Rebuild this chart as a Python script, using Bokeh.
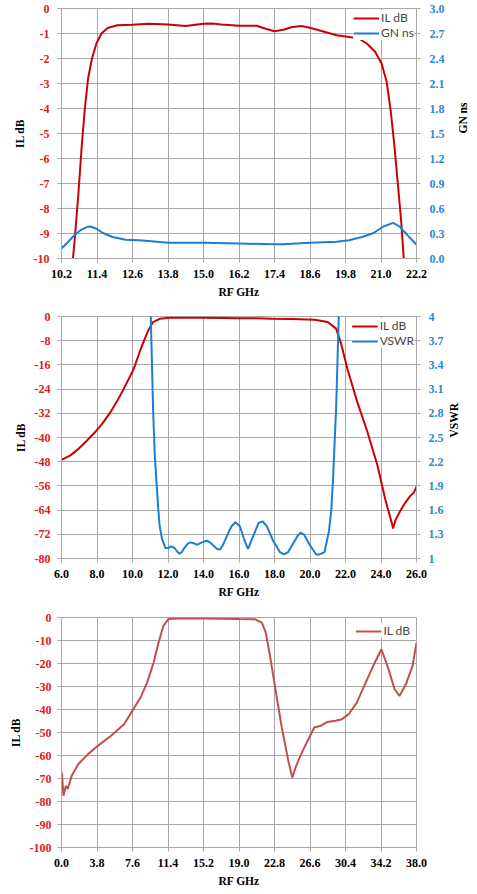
import math
from bokeh.plotting import figure
from bokeh.models import Range1d, LinearAxis, FixedTicker, Legend, LegendItem, NumeralTickFormatter
from bokeh.layouts import column
from bokeh.embed import file_html
from bokeh.resources import INLINE

# ---------------- Chart 1 data ----------------
c1_il_x = [10.587, 10.663, 10.77, 10.88, 10.99, 11.10, 11.23, 11.38, 11.55, 11.76, 12.09, 12.59, 13.14, 13.8,
           14.4, 15.0, 15.3, 15.6, 16.2, 16.8, 17.1, 17.4, 17.7, 18.0, 18.3, 18.6, 19.2, 19.5, 19.92, 20.25,
           20.52, 20.80, 21.02, 21.19, 21.33, 21.46, 21.57, 21.68, 21.77]
c1_il_y = [-10.0, -9.0, -7.42, -5.57, -3.98, -2.79, -2.0, -1.40, -1.0, -0.78, -0.67, -0.65, -0.61, -0.64,
           -0.70, -0.61, -0.60, -0.64, -0.69, -0.69, -0.81, -0.91, -0.85, -0.74, -0.70, -0.77, -0.97, -1.07, -1.14, -1.20,
           -1.40, -1.73, -2.20, -2.92, -4.11, -5.57, -7.02, -8.48, -10.0]
c1_gn_x = [10.2, 10.39, 10.61, 10.83, 11.05, 11.18, 11.38, 11.60, 11.93, 12.37, 12.81, 13.14, 13.8, 15.0, 16.2,
           17.4, 17.7, 18.6, 19.5, 19.92, 20.36, 20.75, 21.08, 21.41, 21.63, 21.90, 22.2]
c1_gn_y = [0.12, 0.187, 0.27, 0.337, 0.377, 0.384, 0.357, 0.306, 0.258, 0.226, 0.218, 0.21, 0.19, 0.19, 0.18,
           0.17, 0.17, 0.19, 0.20, 0.218, 0.258, 0.306, 0.384, 0.428, 0.384, 0.277, 0.165]
c1_x_ticks = [10.2, 11.4, 12.6, 13.8, 15.0, 16.2, 17.4, 18.6, 19.8, 21.0, 22.2]
c1_left_ticks = [0, -1, -2, -3, -4, -5, -6, -7, -8, -9, -10]
c1_right_ticks = [0.0, 0.3, 0.6, 0.9, 1.2, 1.5, 1.8, 2.1, 2.4, 2.7, 3.0]

# ---------------- Chart 2 data ----------------
c2_il_x = [6.0, 6.5, 6.89, 7.3, 7.82, 8.3, 8.75, 9.1, 9.49, 10.05, 10.51, 10.89, 11.16, 11.53, 12.09, 14.0, 16.0,
           17.0, 17.85, 19.0, 20.26, 21.0, 21.47, 21.75, 22.12, 22.67, 23.23, 23.79, 24.26, 24.62, 24.68, 24.81,
           25.09, 25.37, 25.65, 25.85, 26.02]
c2_il_y = [-47.4, -45.9, -44.1, -41.8, -38.7, -35.4, -31.7, -28.3, -24.1, -17.6, -10.0, -4.55, -1.84, -0.76, -0.43,
           -0.43, -0.54, -0.6, -0.76, -0.8, -1.08, -1.84, -4.0, -8.9, -17.6, -28.4, -38.1, -49.0, -60.9, -68.5,
           -70.1, -67.4, -64.2, -61.5, -59.3, -58.2, -56.0]
c2_vswr_x = [10.95, 11.03, 11.16, 11.25, 11.35, 11.45, 11.53, 11.67, 11.85, 12.0, 12.18, 12.37, 12.5, 12.65,
             12.78, 12.92, 13.1, 13.26, 13.45, 13.63, 13.91, 14.19, 14.37, 14.51, 14.75, 14.93, 15.1, 15.34,
             15.58, 15.80, 16.05, 16.30, 16.51, 16.73, 17.1, 17.33, 17.57, 17.9, 18.3, 18.53, 18.77, 19.14,
             19.33, 19.47, 19.65, 19.98, 20.35, 20.54, 20.82, 21.06, 21.2, 21.3, 21.4, 21.47, 21.62, 21.7]
c2_vswr_y = [4.5, 4.0, 2.85, 2.3, 1.95, 1.62, 1.40, 1.24, 1.13, 1.13, 1.15, 1.13, 1.09, 1.06,
             1.08, 1.13, 1.18, 1.20, 1.19, 1.17, 1.20, 1.22, 1.20, 1.17, 1.12, 1.11, 1.17, 1.29,
             1.40, 1.45, 1.40, 1.23, 1.12, 1.24, 1.44, 1.46, 1.40, 1.23, 1.08, 1.05, 1.08, 1.22,
             1.29, 1.32, 1.30, 1.17, 1.05, 1.05, 1.08, 1.33, 1.6, 2.0, 2.5, 2.85, 4.0, 4.5]
c2_x_ticks = [6.0, 8.0, 10.0, 12.0, 14.0, 16.0, 18.0, 20.0, 22.0, 24.0, 26.0]
c2_left_ticks = [0, -8, -16, -24, -32, -40, -48, -56, -64, -72, -80]
c2_right_ticks = [1.0, 1.3, 1.6, 1.9, 2.2, 2.5, 2.8, 3.1, 3.4, 3.7, 4.0]

# ---------------- Chart 3 data ----------------
c3_il_x = [0.04, 0.21, 0.46, 0.67, 1.09, 1.79, 2.84, 3.89, 5.30, 6.70, 7.58, 8.46, 9.16, 9.86, 10.39, 10.91,
           11.44, 12.5, 15.47, 18.98, 20.74, 21.44, 21.86, 22.32, 22.84, 23.55, 24.24, 24.70, 25.12, 25.65,
           26.35, 27.05, 27.76, 28.45, 29.34, 30.03, 30.74, 31.61, 32.49, 33.37, 34.24, 34.95, 35.65, 36.18,
           36.87, 37.58, 38.0]
c3_il_y = [-67.4, -77.5, -73.2, -74.6, -68.8, -63.8, -59.4, -55.8, -51.4, -46.4, -40.6, -34.8, -28.3, -19.6,
           -10.9, -3.6, -0.7, -0.4, -0.43, -0.7, -0.8, -2.2, -6.5, -16.7, -29.7, -47.1, -61.6, -69.6, -64.5,
           -59.4, -53.6, -47.8, -47.1, -45.4, -44.9, -44.2, -42.0, -37.0, -29.0, -21.0, -13.8, -21.7, -31.2,
           -34.1, -29.0, -21.0, -11.0]
c3_x_ticks = [0.0, 3.8, 7.6, 11.4, 15.2, 19.0, 22.8, 26.6, 30.4, 34.2, 38.0]
c3_left_ticks = [0, -10, -20, -30, -40, -50, -60, -70, -80, -90, -100]

RED = "#cc0000"
BLUE = "#1a7fd2"
RED3 = "#c0504d"
RED_LBL = "#e0201c"
BLUE_LBL = "#2a8ad6"
GRID = "#a8a8a8"
TICK_FONT = "Liberation Serif"


def style_axis(ax, color, standoff, label_standoff=5):
    ax.major_label_text_font = TICK_FONT
    ax.major_label_text_font_style = "bold"
    ax.major_label_text_font_size = "12px"
    ax.major_label_text_color = color
    ax.major_label_standoff = standoff
    ax.axis_label_text_font = TICK_FONT
    ax.axis_label_text_font_style = "bold"
    ax.axis_label_text_font_size = "11.5px"
    ax.axis_label_text_color = "black"
    ax.axis_label_standoff = label_standoff
    ax.axis_line_color = GRID
    ax.major_tick_line_color = GRID
    ax.major_tick_out = 4
    ax.major_tick_in = 0
    ax.minor_tick_line_color = None


def upward_label(ax):
    # secondary-axis title reading bottom-to-top, as in the reference
    ax.axis_label_orientation = math.pi / 2
    ax.axis_label_text_align = "center"
    ax.axis_label_text_baseline = "top"


def make_fig(width, height, xr, yr, bl, br, bt, bb):
    p = figure(width=width, height=height, x_range=Range1d(*xr), y_range=Range1d(*yr),
               output_backend="svg", toolbar_location=None,
               min_border_left=bl, min_border_right=br, min_border_top=bt, min_border_bottom=bb)
    p.background_fill_color = "white"
    p.border_fill_color = "white"
    p.outline_line_color = GRID
    p.xgrid.grid_line_color = GRID
    p.ygrid.grid_line_color = GRID
    return p


def style_legend(p, items, loc_margin):
    leg = Legend(items=items, location="top_right")
    leg.label_text_font = "Lato"
    leg.label_text_font_size = "12px"
    leg.glyph_width = 26
    leg.glyph_height = 12
    leg.label_standoff = 2
    leg.spacing = 0
    leg.padding = 2
    leg.margin = loc_margin
    leg.border_line_color = None
    leg.background_fill_color = "white"
    leg.background_fill_alpha = 1.0
    leg.label_height = 12
    p.add_layout(leg)


# ---------------- Figure 1 ----------------
p1 = make_fig(477, 300, (10.2, 22.2), (-10, 0), 61, 53, 8, 40)
p1.extra_y_ranges = {"gn": Range1d(0, 3)}
p1.xaxis.ticker = FixedTicker(ticks=c1_x_ticks)
p1.xaxis.formatter = NumeralTickFormatter(format="0.0")
p1.xaxis.axis_label = "RF GHz"
p1.yaxis.ticker = FixedTicker(ticks=c1_left_ticks)
p1.yaxis.formatter = NumeralTickFormatter(format="0")
p1.yaxis.axis_label = "IL dB"
style_axis(p1.xaxis[0], "black", 7)
style_axis(p1.yaxis[0], RED_LBL, 8)
r1 = LinearAxis(y_range_name="gn", ticker=FixedTicker(ticks=c1_right_ticks),
                formatter=NumeralTickFormatter(format="0.0"), axis_label="GN ns")
style_axis(r1, BLUE_LBL, 9, 15)
upward_label(r1)
p1.add_layout(r1, "right")
l1a = p1.line(c1_il_x, c1_il_y, line_color=RED, line_width=2)
l1b = p1.line(c1_gn_x, c1_gn_y, line_color=BLUE, line_width=2, y_range_name="gn")
style_legend(p1, [LegendItem(label="IL dB", renderers=[l1a]), LegendItem(label="GN ns", renderers=[l1b])], 2)

# ---------------- Figure 2 ----------------
p2 = make_fig(477, 300, (6, 26), (-80, 0), 59, 59, 16, 38)
p2.extra_y_ranges = {"vswr": Range1d(1, 4)}
p2.xaxis.ticker = FixedTicker(ticks=c2_x_ticks)
p2.xaxis.formatter = NumeralTickFormatter(format="0.0")
p2.xaxis.axis_label = "RF GHz"
p2.yaxis.ticker = FixedTicker(ticks=c2_left_ticks)
p2.yaxis.formatter = NumeralTickFormatter(format="0")
p2.yaxis.axis_label = "IL dB"
style_axis(p2.xaxis[0], "black", 7)
style_axis(p2.yaxis[0], RED_LBL, 7)
r2 = LinearAxis(y_range_name="vswr", ticker=FixedTicker(ticks=c2_right_ticks),
                formatter=NumeralTickFormatter(format="0.[0]"), axis_label="VSWR")
style_axis(r2, BLUE_LBL, 8, 7)
upward_label(r2)
p2.add_layout(r2, "right")
l2a = p2.line(c2_il_x, c2_il_y, line_color=RED, line_width=2)
l2b = p2.line(c2_vswr_x, c2_vswr_y, line_color=BLUE, line_width=2, y_range_name="vswr")
style_legend(p2, [LegendItem(label="IL dB", renderers=[l2a]), LegendItem(label="VSWR", renderers=[l2b])], 2)

# ---------------- Figure 3 ----------------
p3 = make_fig(477, 294, (0, 38), (-100, 0), 58, 58, 17, 47)
p3.xaxis.ticker = FixedTicker(ticks=c3_x_ticks)
p3.xaxis.formatter = NumeralTickFormatter(format="0.0")
p3.xaxis.axis_label = "RF GHz"
p3.yaxis.ticker = FixedTicker(ticks=c3_left_ticks)
p3.yaxis.formatter = NumeralTickFormatter(format="0")
p3.yaxis.axis_label = "IL dB"
style_axis(p3.xaxis[0], "black", 7)
style_axis(p3.yaxis[0], RED_LBL, 6)
l3a = p3.line(c3_il_x, c3_il_y, line_color=RED3, line_width=2)
style_legend(p3, [LegendItem(label="IL dB", renderers=[l3a])], 6)

layout = column(p1, p2, p3, spacing=0)
open("out.html", "w").write(file_html(layout, INLINE))
